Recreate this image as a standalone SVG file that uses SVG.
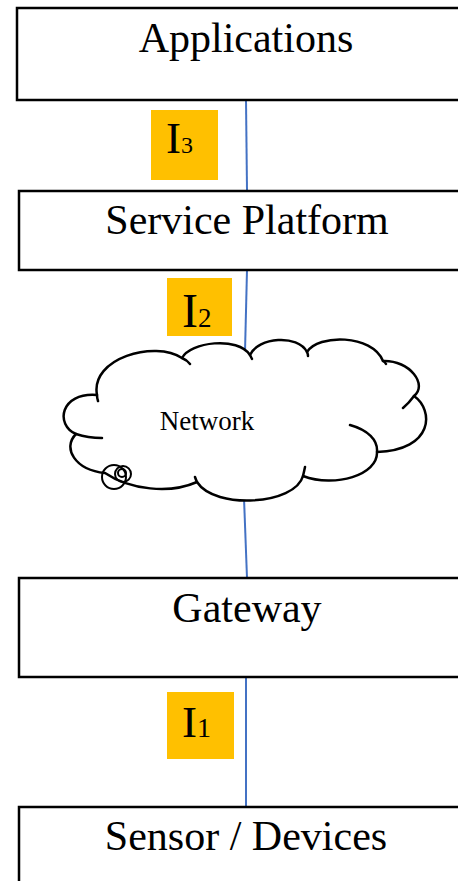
<svg xmlns="http://www.w3.org/2000/svg" width="458" height="881" viewBox="0 0 458 881">
<style>
.box{fill:#fff;stroke:#000;stroke-width:2.5}
.lbl{font-family:"Liberation Serif","Times New Roman",serif;font-size:42px;fill:#000;text-anchor:middle}
.tag{fill:#FFC000}
.tagt{font-family:"Liberation Serif","Times New Roman",serif;fill:#000}
.conn{stroke:#4472C4;stroke-width:2;fill:none}
.cloud{fill:#fff;stroke:#000;stroke-width:2.5;stroke-linejoin:round}
.tail{fill:none;stroke:#000;stroke-width:2.5;stroke-linecap:round}
.ring{fill:none;stroke:#000;stroke-width:2}
</style>
<rect width="458" height="881" fill="#fff"/>
<g id="connectors">
<line class="conn" x1="246" y1="100" x2="247" y2="190"/>
<line class="conn" x1="247" y1="270" x2="245" y2="352"/>
<line class="conn" x1="244" y1="498" x2="247" y2="578"/>
<line class="conn" x1="246" y1="677" x2="246" y2="807"/>
</g>
<g id="applications">
<rect class="box" x="17" y="8" width="460" height="92"/>
<text class="lbl" x="246" y="52">Applications</text>
</g>
<g id="service-platform">
<rect class="box" x="19" y="191" width="460" height="79"/>
<text class="lbl" x="247" y="234">Service Platform</text>
</g>
<g id="network">
<path class="cloud" d="M97,395 C90,358 155,340 182,358 C190,342 238,336 250,355 C258,337 298,334 307,352 C318,334 372,334 383,361 C410,360 428,385 414,396 C434,410 434,450 377,452 C378,475 335,488 303,476 C295,505 215,510 197,482 C170,494 130,490 105,473 C75,470 62,448 76,434 C55,425 60,392 97,395 Z"/>
<path class="tail" d="M97,395 Q97,398 98,401 M182,358 Q187,360 190,364 M250,355 Q251,357 252,359 M307,352 Q308,354 308,356 M383,361 Q385,362 386,364 M414,396 Q409,403 403,408 M350,425 C368,430 378,440 377,452 M303,476 Q304,472 305,467 M197,482 Q196,480 195,477 M76,434 Q88,438 102,438"/>
<circle class="ring" cx="114" cy="477" r="12"/>
<circle class="ring" cx="123" cy="474" r="8"/>
<circle class="ring" cx="122" cy="473" r="4"/>
<text class="tagt" x="207" y="430" font-size="27" text-anchor="middle">Network</text>
</g>
<g id="gateway">
<rect class="box" x="19" y="578" width="460" height="99"/>
<text class="lbl" x="247" y="622">Gateway</text>
</g>
<g id="sensor-devices">
<rect class="box" x="19" y="807" width="460" height="90"/>
<text class="lbl" x="246" y="850">Sensor / Devices</text>
</g>
<g id="i3">
<rect class="tag" x="151" y="110" width="67" height="70"/>
<text class="tagt" x="166" y="153"><tspan font-size="45">I</tspan><tspan font-size="24">3</tspan></text>
</g>
<g id="i2">
<rect class="tag" x="167" y="278" width="65" height="58"/>
<text class="tagt" x="182" y="327"><tspan font-size="48">I</tspan><tspan font-size="27">2</tspan></text>
</g>
<g id="i1">
<rect class="tag" x="167" y="692" width="67" height="67"/>
<text class="tagt" x="182" y="737"><tspan font-size="45">I</tspan><tspan font-size="28">1</tspan></text>
</g>
</svg>
